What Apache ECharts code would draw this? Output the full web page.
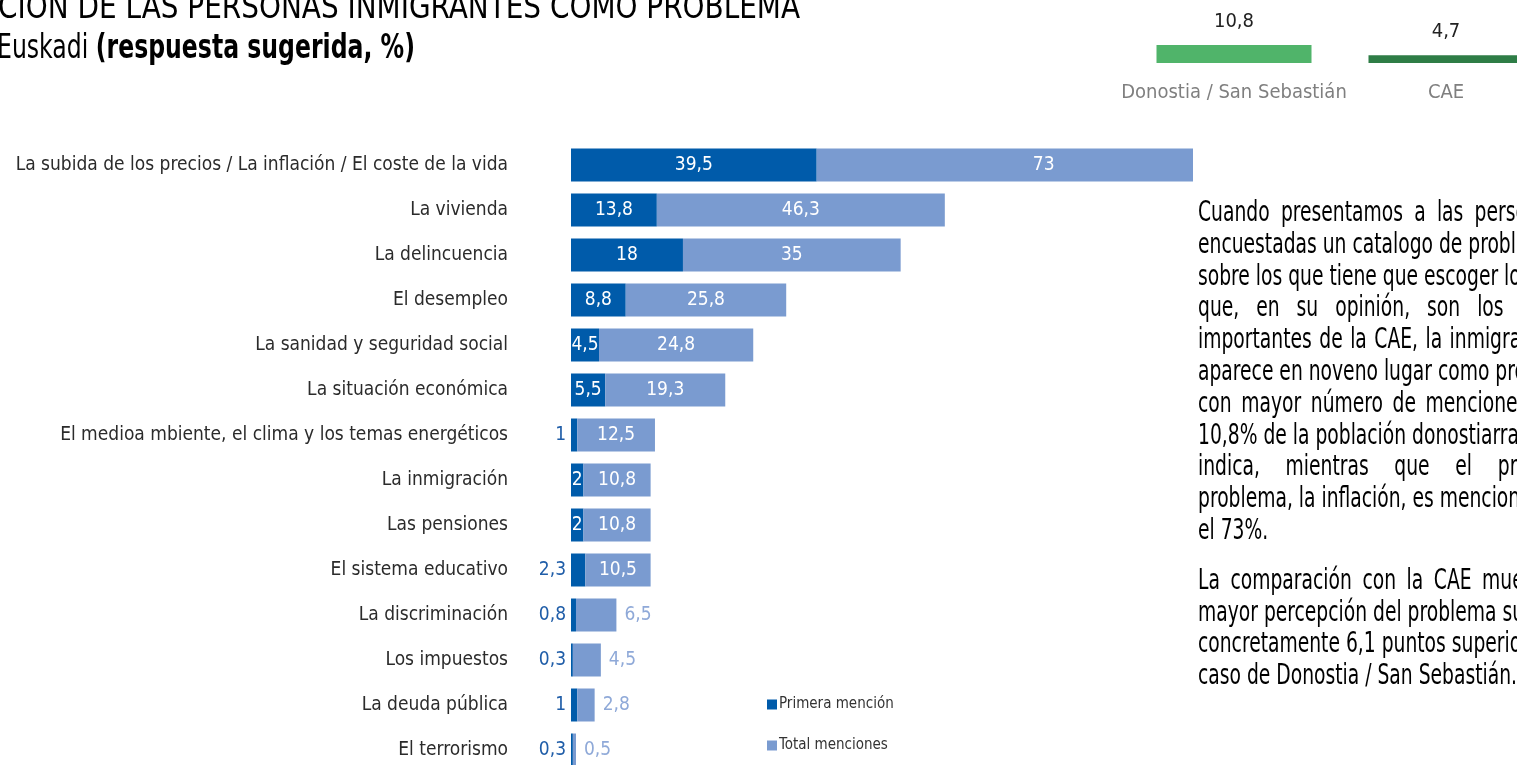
<!DOCTYPE html>
<html>
<head>
<meta charset="utf-8">
<script src="https://cdn.jsdelivr.net/npm/echarts@6/dist/echarts.min.js"></script>
<style>
html,body{margin:0;padding:0;background:#fff;overflow:hidden;}
#chart{position:absolute;left:0;top:0;width:1517px;height:765px;}
#txt{position:absolute;left:1198px;top:196px;transform-origin:0 0;font-family:"DejaVu Sans Condensed","DejaVu Sans",sans-serif;font-size:28px;line-height:31.8px;color:#000;}
#txt div{white-space:nowrap;}
#txt .j{text-align:justify;text-align-last:justify;}
#txt .l{text-align:left;}
#txt .gap{height:18px;}
</style>
</head>
<body>
<div id="chart"></div>
<div id="txt"></div>
<script>
// ---- data ----
const categories = [
  "La subida de los precios / La inflación / El coste de la vida",
  "La vivienda",
  "La delincuencia",
  "El desempleo",
  "La sanidad y seguridad social",
  "La situación económica",
  "El medioa mbiente, el clima y los temas energéticos",
  "La inmigración",
  "Las pensiones",
  "El sistema educativo",
  "La discriminación",
  "Los impuestos",
  "La deuda pública",
  "El terrorismo"
];
const primeraMencion = [39.5, 13.8, 18, 8.8, 4.5, 5.5, 1, 2, 2, 2.3, 0.8, 0.3, 1, 0.3];
const totalMenciones = [73, 46.3, 35, 25.8, 24.8, 19.3, 12.5, 10.8, 10.8, 10.5, 6.5, 4.5, 2.8, 0.5];
const seriesNames = ["Primera mención", "Total menciones"];
const compCategories = ["Donostia / San Sebastián", "CAE"];
const compValues = [10.8, 4.7];
const titleLine1a = "PERCEP";
const titleLine1b = "CIÓN DE LAS PERSONAS INMIGRANTES COMO PROBLEMA";
const titleLine2pre = "Donostia / San Sebastián y ";
const titleLine2a = "Euskadi ";
const titleLine2b = "(respuesta sugerida, %)";
const para1 = [
  "Cuando presentamos a las personas",
  "encuestadas un catalogo de problemas",
  "sobre los que tiene que escoger los tres",
  "que, en su opinión, son los más",
  "importantes de la CAE, la inmigración",
  "aparece en noveno lugar como problema",
  "con mayor número de menciones: el",
  "10,8% de la población donostiarra así lo",
  "indica, mientras que el primer",
  "problema, la inflación, es mencionado por",
  "el 73%."
];
const para2 = [
  "La comparación con la CAE muestra",
  "mayor percepción del problema sumado,",
  "concretamente 6,1 puntos superior en el",
  "caso de Donostia / San Sebastián."
];

// ---- styling ----
const FONT = '"DejaVu Sans Condensed","Liberation Sans Narrow",sans-serif';
const DARK = '#005BAA', LIGHT = '#7A9BD0';
const AXMAX = 100, GRID_LEFT = 571, GRID_W = 622;
const ppu = GRID_W / AXMAX;
const fmt = v => String(v).replace('.', ',');

const mctx = document.createElement('canvas').getContext('2d');
const tw = (s, f) => { mctx.font = f; return mctx.measureText(s).width; };

const darkData = primeraMencion.map(v => {
  const inside = v * ppu >= tw(fmt(v), '19px ' + FONT) - 1;
  return {value: v, label: inside ? {position: 'inside', color: '#fff'} : {position: 'left', color: '#1F5DA8', distance: 5}};
});
const lightData = totalMenciones.map((v, i) => {
  const inside = v >= 10;
  const over = primeraMencion[i] + v - AXMAX;
  const lab = inside ? {position: 'inside', color: '#fff'} : {position: 'right', color: '#8FA9D8', distance: 8};
  if (over > 0) lab.offset = [over / 2 * ppu, 0];
  return {value: v, label: lab};
});

// title horizontal compression so the visible part spans like the slide
const sc1 = 802 / tw(titleLine1b, '33px ' + FONT);
const sc2 = 418 / (tw(titleLine2a, '33px ' + FONT) + tw(titleLine2b, 'bold 33px ' + FONT));

const chart = echarts.init(document.getElementById('chart'), null, {renderer: 'canvas'});
chart.setOption({
  backgroundColor: '#fff',
  animation: false,
  textStyle: {fontFamily: FONT},
  legend: {
    orient: 'vertical', left: 762, top: 692, itemWidth: 10, itemHeight: 10, itemGap: 26,
    icon: 'rect', data: seriesNames,
    textStyle: {fontFamily: FONT, fontSize: 15, color: '#333', padding: [0,0,0,-3]}
  },
  grid: [
    {left: GRID_LEFT, width: GRID_W, top: 142.5, height: 630, containLabel: false, outerBoundsMode: 'none'},
    {left: 1128, width: 424, top: 29.7, height: 33.3, containLabel: false, outerBoundsMode: 'none'}
  ],
  xAxis: [
    {type: 'value', gridIndex: 0, min: 0, max: AXMAX, show: false},
    {type: 'category', gridIndex: 1, data: compCategories, axisLine: {show: false}, axisTick: {show: false},
     axisLabel: {interval: 0, hideOverlap: false, fontFamily: FONT, fontSize: 20, color: '#7F7F7F', margin: 20}}
  ],
  yAxis: [
    {type: 'category', gridIndex: 0, data: categories, inverse: true,
     axisLine: {show: false}, axisTick: {show: false}, splitLine: {show: false},
     axisLabel: {interval: 0, fontFamily: FONT, fontSize: 19, color: '#2b2b2b', margin: 63}},
    {type: 'value', gridIndex: 1, min: 0, max: 20, show: false}
  ],
  series: [
    {name: seriesNames[0], type: 'bar', stack: 'a', xAxisIndex: 0, yAxisIndex: 0, barWidth: 33,
     itemStyle: {color: DARK}, data: darkData,
     label: {show: true, fontFamily: FONT, fontSize: 19, formatter: p => fmt(p.value)}},
    {name: seriesNames[1], type: 'bar', stack: 'a', xAxisIndex: 0, yAxisIndex: 0, barWidth: 33,
     itemStyle: {color: LIGHT}, data: lightData,
     label: {show: true, fontFamily: FONT, fontSize: 19, formatter: p => fmt(p.value)}},
    {name: 'comp', type: 'bar', xAxisIndex: 1, yAxisIndex: 1, barWidth: 155,
     data: compValues.map((v, i) => ({value: v, itemStyle: {color: i === 0 ? '#50B46A' : '#2E7D46'}})),
     label: {show: true, position: 'top', distance: 13, fontFamily: FONT, fontSize: 20, color: '#222', formatter: p => fmt(p.value)}}
  ],
  graphic: [
    {type: 'text', x: 800, y: 26, scaleX: sc1, style: {
      text: titleLine1a + titleLine1b, align: 'right', verticalAlign: 'bottom', font: '33px ' + FONT, fill: '#000'}},
    {type: 'text', x: 415, y: 66, scaleX: sc2, style: {
      text: '{a|' + titleLine2pre + titleLine2a + '}{b|' + titleLine2b + '}', align: 'right', verticalAlign: 'bottom',
      rich: {a: {fontFamily: FONT, fontSize: 33, fill: '#000'}, b: {fontFamily: FONT, fontSize: 33, fontWeight: 'bold', fill: '#000'}}
    }}
  ]
});

// paragraph text
const txt = document.getElementById('txt');
const sc = 319 / tw(para2[para2.length - 1], '28px "DejaVu Sans Condensed","DejaVu Sans",sans-serif');
const W = 362 / sc;
function addPara(lines) {
  lines.forEach((t, i) => {
    const d = document.createElement('div');
    d.className = i === lines.length - 1 ? 'l' : 'j';
    d.style.width = W + 'px';
    d.textContent = t;
    txt.appendChild(d);
  });
}
addPara(para1);
const g = document.createElement('div'); g.className = 'gap'; txt.appendChild(g);
addPara(para2);
txt.style.transform = 'scaleX(' + sc + ')';
</script>
</body>
</html>
